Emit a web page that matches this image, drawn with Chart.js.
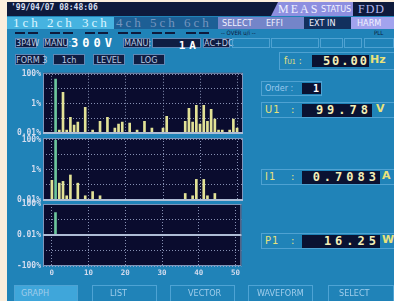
<!DOCTYPE html>
<html>
<head>
<meta charset="utf-8">
<title>HARM graph</title>
<script src="https://cdn.jsdelivr.net/npm/chart.js@4.4.1/dist/chart.umd.min.js"></script>
<style>
  html, body { margin: 0; padding: 0; background: #fbeedd; }
  #pantalla { position: relative; width: 394px; height: 301px; overflow: hidden; background: #fbeedd;
    font-family: "DejaVu Sans Condensed", "Roboto", sans-serif; }
  .c { position: absolute; white-space: nowrap; box-sizing: border-box; }
  .caja { background: #0f1d42; border: 1px solid #5f86b4; color: #b9cbe4; font-size: 9px; text-align: center; line-height: 9px; }
  .marco { border: 1px solid #4fa2d2; }
  .valor { background: #0a1232; color: #f3efb8; font-family: "DejaVu Sans Mono", monospace; font-weight: bold;
    text-align: right; font-size: 12px; letter-spacing: 4px; line-height: 13px; }
  .amarillo { color: #e9e27a; }
  .ch { top: 17px; line-height: 12px; font-family: "Liberation Serif", serif; font-size: 13px; letter-spacing: 3px; }
  .tab { top: 17px; line-height: 12px; font-size: 9px; color: #f2f2ff; }
  .boton { top: 285px; height: 18px; border: 1px solid #4ea3d4; color: #9fcdeb; font-size: 9px; line-height: 15px; }
  canvas { position: absolute; left: 0; }
</style>
</head>
<body>
<div id="pantalla">
  <div class="c" style="left:7px;top:2px;width:387px;height:299px;background:#2083b8"></div>

  <!-- barra superior -->
  <div class="c" style="left:7px;top:2px;width:387px;height:14px;background:#0e1a3c"></div>
  <div class="c" style="left:11px;top:3px;line-height:12px;font:bold 8px 'DejaVu Sans Mono',monospace;color:#d6deef">'99/04/07 08:48:06</div>
  <div class="c" style="left:271px;top:2px;width:82px;height:14px;background:#8d8fe0;clip-path:polygon(7px 0,100% 0,100% 100%,0 100%)"></div>
  <div class="c" style="left:278px;top:2px;line-height:14px;font:12px 'Liberation Serif',serif;color:#eef0ff;letter-spacing:2px">MEAS</div>
  <div class="c" style="left:321px;top:2px;line-height:14px;font-size:9px;color:#f2f2ff">STATUS</div>
  <div class="c" style="left:358px;top:2px;line-height:14px;font:12px 'Liberation Serif',serif;color:#b8bcf0;letter-spacing:1px">FDD</div>

  <!-- canales -->
  <div class="c" style="left:7px;top:17px;width:107px;height:12px;background:#46b3e0"></div>
  <div class="c" style="left:114px;top:17px;width:104px;height:12px;background:#1d5f95"></div>
  <div class="c" style="left:218px;top:17px;width:86px;height:12px;background:#7485c9"></div>
  <div class="c" style="left:304px;top:17px;width:47px;height:12px;background:#12305e"></div>
  <div class="c" style="left:351px;top:17px;width:43px;height:12px;background:#a2a3ee"></div>
  <div class="c ch" style="left:13px;color:#dcf5ff">1ch</div>
  <div class="c ch" style="left:47px;color:#dcf5ff">2ch</div>
  <div class="c ch" style="left:82px;color:#dcf5ff">3ch</div>
  <div class="c ch" style="left:116px;color:#7596bf">4ch</div>
  <div class="c ch" style="left:150px;color:#7596bf">5ch</div>
  <div class="c ch" style="left:184px;color:#7596bf">6ch</div>
  <div class="c tab" style="left:222px">SELECT</div>
  <div class="c tab" style="left:266px">EFFI</div>
  <div class="c tab" style="left:309px">EXT IN</div>
  <div class="c tab" style="left:357px">HARM</div>
  <div id="rayas"></div>
  <div class="c" style="left:221px;top:29px;line-height:7px;font-size:6px;color:#0e1a3c">-- OVER u/i --</div>
  <div class="c" style="left:374px;top:29px;line-height:7px;font-size:6px;color:#0e1a3c">PLL</div>

  <!-- rango -->
  <div class="c caja" style="left:15px;top:38px;width:22px;height:10px">3P4W</div>
  <div class="c caja" style="left:43px;top:38px;width:25px;height:10px">MANU:</div>
  <div class="c" style="left:71px;top:36px;line-height:13px;font:bold 12px 'DejaVu Sans Mono',monospace;letter-spacing:4px;color:#ffffff">300V</div>
  <div class="c caja" style="left:123px;top:38px;width:27px;height:10px">MANU:</div>
  <div class="c caja" style="left:152px;top:38px;width:49px;height:10px;text-align:right;font:bold 11px 'DejaVu Sans Mono',monospace;color:#ffffff;letter-spacing:4px">1A</div>
  <div class="c caja" style="left:203px;top:38px;width:27px;height:10px">AC+DC</div>
  <div class="c marco" style="left:232px;top:38px;width:38px;height:10px"></div>
  <div class="c marco" style="left:271px;top:38px;width:48px;height:10px"></div>
  <div class="c marco" style="left:320px;top:38px;width:23px;height:10px"></div>
  <div class="c marco" style="left:344px;top:38px;width:18px;height:10px"></div>
  <div class="c marco" style="left:364px;top:38px;width:30px;height:10px"></div>

  <div class="c caja" style="left:15px;top:54px;width:30px;height:11px;line-height:10px">FORM 3</div>
  <div class="c caja" style="left:53px;top:54px;width:32px;height:11px;line-height:10px">1ch</div>
  <div class="c caja" style="left:93px;top:54px;width:32px;height:11px;line-height:10px">LEVEL</div>
  <div class="c caja" style="left:133px;top:54px;width:32px;height:11px;line-height:10px">LOG</div>

  <!-- frecuencia -->
  <div class="c marco" style="left:279px;top:52px;width:116px;height:18px"></div>
  <div class="c amarillo" style="left:284px;top:53px;line-height:16px;font-size:10px">f<span style="font-size:7px">U1</span> :</div>
  <div class="c valor" style="left:312px;top:55px;width:57px;height:12px;line-height:12px;letter-spacing:2px">50.00</div>
  <div class="c amarillo" style="left:370px;top:53px;line-height:16px;font:bold 11px 'DejaVu Sans',sans-serif">Hz</div>

  <!-- valores -->
  <div class="c marco" style="left:261px;top:81px;width:61px;height:15px"></div>
  <div class="c" style="left:265px;top:81px;line-height:15px;font-size:9px;color:#9cc8ec">Order :</div>
  <div class="c valor" style="left:302px;top:83px;width:19px;height:11px;line-height:11px;font-size:10px;letter-spacing:2px;color:#ffffff">1</div>

  <div class="c marco" style="left:261px;top:102px;width:134px;height:16px"></div>
  <div class="c amarillo" style="left:265px;top:102px;line-height:16px;font-size:11px;letter-spacing:1px">U1</div>
  <div class="c amarillo" style="left:291px;top:102px;line-height:16px;font-size:11px">:</div>
  <div class="c valor" style="left:302px;top:104px;width:70px;height:13px">99.78</div>
  <div class="c amarillo" style="left:376px;top:102px;line-height:16px;font:bold 11px 'DejaVu Sans',sans-serif">V</div>

  <div class="c marco" style="left:261px;top:169px;width:134px;height:16px"></div>
  <div class="c amarillo" style="left:265px;top:169px;line-height:16px;font-size:11px;letter-spacing:1px">I1</div>
  <div class="c amarillo" style="left:291px;top:169px;line-height:16px;font-size:11px">:</div>
  <div class="c valor" style="left:302px;top:171px;width:78px;height:13px">0.7083</div>
  <div class="c amarillo" style="left:382px;top:169px;line-height:16px;font:bold 11px 'DejaVu Sans',sans-serif">A</div>

  <div class="c marco" style="left:261px;top:233px;width:134px;height:16px"></div>
  <div class="c amarillo" style="left:265px;top:233px;line-height:16px;font-size:11px;letter-spacing:1px">P1</div>
  <div class="c amarillo" style="left:291px;top:233px;line-height:16px;font-size:11px">:</div>
  <div class="c valor" style="left:302px;top:235px;width:78px;height:13px">16.25</div>
  <div class="c amarillo" style="left:382px;top:233px;line-height:16px;font:bold 11px 'DejaVu Sans',sans-serif">W</div>

  <!-- graficos -->
  <canvas id="grafU" width="243" height="74" style="top:66px"></canvas>
  <canvas id="grafI" width="243" height="76" style="top:131px"></canvas>
  <canvas id="grafP" width="243" height="87" style="top:197px"></canvas>

  <!-- botones -->
  <div class="c boton" style="left:14px;width:64px;background:#3fa6da;padding-left:6px">GRAPH</div>
  <div class="c boton" style="left:92px;width:65px;padding-left:17px">LIST</div>
  <div class="c boton" style="left:170px;width:65px;padding-left:17px">VECTOR</div>
  <div class="c boton" style="left:248px;width:65px;padding-left:8px">WAVEFORM</div>
  <div class="c boton" style="left:328px;width:66px;padding-left:10px">SELECT</div>
</div>

<script>
// orden de armonico y nivel en % (escala log)
const ordenesU = [1, 2, 3, 4, 5, 6, 7, 9, 11, 13, 15, 17, 18, 19, 21, 23, 25, 27, 30, 31,
  36, 37, 38, 39, 40, 41, 42, 43, 44, 45, 46, 48, 49, 50];
const nivelesU = [46, 0.016, 5.9, 0.016, 0.12, 0.035, 0.056, 0.57, 0.016, 0.065, 0.12, 0.022, 0.041, 0.056, 0.048, 0.016, 0.065, 0.022, 0.022, 0.14,
  0.065, 0.49, 0.056, 0.78, 0.041, 0.78, 0.065, 0.42, 0.089, 0.016, 0.016, 0.016, 0.089, 0.022];

const ordenesI = [0, 1, 2, 3, 4, 5, 7, 9, 11, 13, 36, 38, 39, 41, 42, 44];
const nivelesI = [0.2, 90, 0.13, 0.17, 0.019, 0.45, 0.13, 0.019, 0.036, 0.019, 0.027, 0.019, 0.23, 0.23, 0.019, 0.027];

const ordenesP = [1];
const nivelesP = [7.6];

const marcasX = [0, 10, 20, 30, 40, 50];
const marcasLog = [0.01, 0.1, 1, 10, 100];
const etiquetasLog = ["0.01%", "", "1%", "", "100%"];
const marcasP = [-6, -5, -4, -3, -2, -1, 0, 1, 2, 3, 4, 5, 6];
const etiquetasP = ["-100%", "", "", "", "", "", "0.01%", "", "", "", "", "", "100%"];

const verde = "#6cc59c";
const amarillo = "#e2e296";
const colorGrid = "rgba(165,178,212,0.8)";
const fuenteEje = { family: "DejaVu Sans Mono", weight: "bold", size: 8 };

// rayitas bajo los canales
const rayas = document.getElementById("rayas");
[15, 50, 85, 118, 152, 186].forEach((x) => {
  [x, x + 13].forEach((xx) => {
    const d = document.createElement("div");
    d.className = "c";
    d.style.cssText = `left:${xx}px;top:32px;width:10px;height:2px;background:#0e1a3c`;
    rayas.appendChild(d);
  });
});

const fondoPanel = {
  id: "fondoPanel",
  beforeDraw(chart) {
    const a = chart.chartArea;
    const ctx = chart.ctx;
    ctx.save();
    ctx.fillStyle = "#0a0c2e";
    ctx.fillRect(a.left, a.top, a.right - a.left, a.bottom - a.top);
    ctx.restore();
  },
  afterDraw(chart, args, opts) {
    const a = chart.chartArea;
    const ctx = chart.ctx;
    ctx.save();
    ctx.strokeStyle = "#7f96bb";
    ctx.lineWidth = 1;
    ctx.strokeRect(a.left + 0.5, a.top + 0.5, a.right - a.left - 1, a.bottom - a.top - 1);
    const yb = Math.round(chart.scales.y.getPixelForValue(opts.base));
    ctx.fillStyle = "#aebdd6";
    ctx.fillRect(a.left, yb - 1, a.right - a.left, 2);
    ctx.restore();
  },
};

function ejeX(mostrar) {
  return {
    type: "linear",
    min: -2.4,
    max: 51.6,
    offset: false,
    afterBuildTicks: (s) => { s.ticks = marcasX.map((v) => ({ value: v })); },
    afterFit: (s) => { s.height = mostrar ? 14 : 0; },
    grid: { color: colorGrid, lineWidth: 1, drawTicks: false, offset: false },
    border: { display: false, dash: [1, 2] },
    ticks: { display: mostrar, padding: 3, color: "#d4dcee", font: { family: "DejaVu Sans Mono", weight: "bold", size: 7.5 } },
  };
}

function ejeY(log) {
  const marcas = log ? marcasLog : marcasP;
  const etiquetas = log ? etiquetasLog : etiquetasP;
  return {
    type: log ? "logarithmic" : "linear",
    min: log ? 0.01 : -6,
    max: log ? 125 : 6,
    afterBuildTicks: (s) => { s.ticks = marcas.map((v) => ({ value: v })); },
    afterFit: (s) => { s.width = 43; },
    grid: { color: colorGrid, lineWidth: 1, drawTicks: false },
    border: { display: false, dash: [1, 2] },
    ticks: {
      padding: 2,
      color: "#d4dcee",
      font: fuenteEje,
      callback: (v) => etiquetas[marcas.indexOf(v)],
    },
  };
}

function panel(id, ordenes, valores, log, mostrarX, relleno) {
  const datos = ordenes.map((o, i) => ({ x: o, y: valores[i] }));
  return new Chart(document.getElementById(id), {
    type: "bar",
    data: {
      datasets: [{
        data: datos,
        backgroundColor: ordenes.map((o) => (o === 1 ? verde : amarillo)),
        barThickness: 2,
        borderWidth: 0,
      }],
    },
    options: {
      responsive: false,
      animation: false,
      layout: { padding: { top: relleno[0], bottom: relleno[1], left: 0, right: 0 } },
      plugins: { legend: { display: false }, tooltip: { enabled: false }, fondoPanel: { base: log ? 0.01 : 0 } },
      scales: { x: ejeX(mostrarX), y: ejeY(log) },
    },
    plugins: [fondoPanel],
  });
}

panel("grafU", ordenesU, nivelesU, true, false, [6, 6]);
panel("grafI", ordenesI, nivelesI, true, false, [7, 7]);
// potencia: escala simetrica de decadas (1.5 unidades por decada, 0.01% en el centro)
panel("grafP", ordenesP, nivelesP.map((v) => Math.sign(v) * (Math.log10(Math.abs(v)) + 2) * 1.5), false, true, [7, 4]);
</script>
</body>
</html>
